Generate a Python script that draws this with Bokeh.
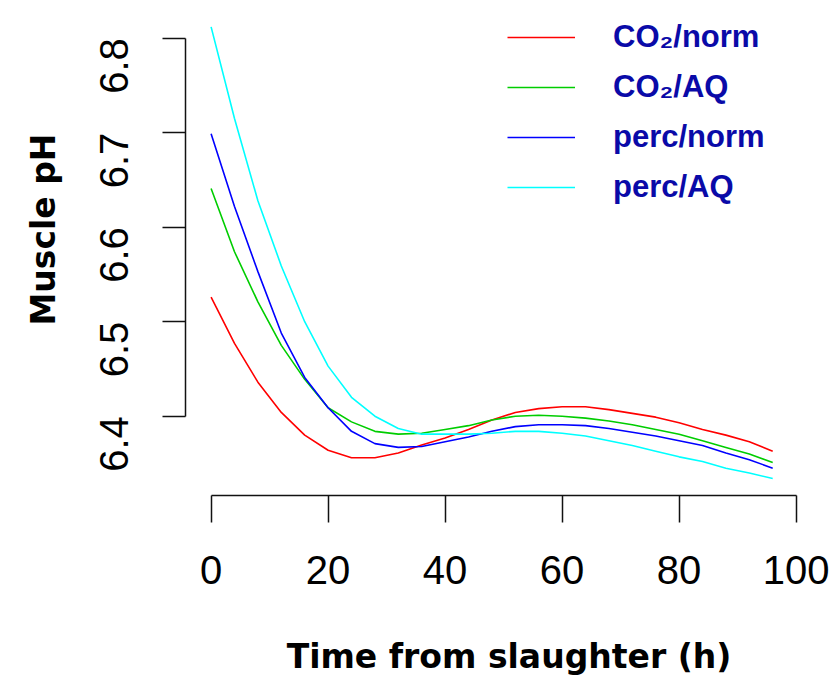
import math
from bokeh.plotting import figure
from bokeh.models import FixedTicker, PrintfTickFormatter, Legend, LegendItem, Range1d, Title
from bokeh.embed import file_html
from bokeh.resources import INLINE

# ---- data ----
time_h = [0, 4, 8, 12, 16, 20, 24, 28, 32, 36, 40, 44, 48,
          52, 56, 60, 64, 68, 72, 76, 80, 84, 88, 92, 96]

co2_norm = [6.526, 6.477, 6.436, 6.404, 6.380, 6.364, 6.356, 6.356, 6.361, 6.3695,
            6.377, 6.386, 6.396, 6.404, 6.408, 6.410, 6.410, 6.407, 6.403, 6.399,
            6.393, 6.386, 6.380, 6.373, 6.363]
co2_aq = [6.641, 6.574, 6.521, 6.475, 6.439, 6.409, 6.394, 6.384, 6.381, 6.382,
          6.386, 6.390, 6.396, 6.400, 6.401, 6.400, 6.398, 6.395, 6.391, 6.386,
          6.381, 6.374, 6.367, 6.360, 6.351]
perc_norm = [6.699, 6.622, 6.553, 6.488, 6.441, 6.409, 6.384, 6.371, 6.367, 6.368,
             6.373, 6.378, 6.384, 6.389, 6.391, 6.391, 6.390, 6.387, 6.383, 6.379,
             6.374, 6.369, 6.361, 6.354, 6.345]
perc_aq = [6.812, 6.715, 6.628, 6.559, 6.500, 6.453, 6.420, 6.400, 6.387, 6.381,
           6.381, 6.381, 6.382, 6.384, 6.384, 6.382, 6.379, 6.374, 6.369, 6.363,
           6.357, 6.352, 6.345, 6.340, 6.334]

series_names = ["CO\u2082/norm", "CO\u2082/AQ", "perc/norm", "perc/AQ"]
series_colors = ["#FF0000", "#00CD00", "#0000FF", "#00FFFF"]

x_ticks = [0, 20, 40, 60, 80, 100]
y_ticks = [6.4, 6.5, 6.6, 6.7, 6.8]

# ---- figure ----
p = figure(width=832, height=686, output_backend="svg", toolbar_location=None,
           x_range=Range1d(-4.376, 106.22), y_range=Range1d(6.3161, 6.8293),
           min_border_left=185, min_border_right=0, min_border_top=10,
           min_border_bottom=191)
p.outline_line_color = None
p.grid.visible = False
p.background_fill_color = "white"
p.border_fill_color = "white"

renderers = []
for ys, c in zip([co2_norm, co2_aq, perc_norm, perc_aq], series_colors):
    r = p.line(time_h, ys, line_color=c, line_width=1.6)
    renderers.append(r)

# x axis
xa = p.xaxis[0]
xa.bounds = (0, 100)
xa.ticker = FixedTicker(ticks=x_ticks)
xa.minor_tick_line_color = None
xa.major_tick_in = 0
xa.major_tick_out = 27
xa.axis_line_width = 1.5
xa.major_tick_line_width = 1.5
xa.axis_line_color = "#111111"
xa.major_tick_line_color = "#111111"
xa.major_label_text_font = "Liberation Sans"
xa.major_label_text_font_size = "40px"
xa.major_label_text_color = "black"
xa.major_label_standoff = 33
xa.axis_label = "Time from slaughter (h)"
xa.axis_label_text_font = "DejaVu Sans"
xa.axis_label_text_font_style = "bold"
xa.axis_label_text_font_size = "33px"
xa.axis_label_text_color = "black"
xa.axis_label_standoff = 50

# y axis
ya = p.yaxis[0]
ya.bounds = (6.4, 6.8)
ya.ticker = FixedTicker(ticks=y_ticks)
ya.formatter = PrintfTickFormatter(format="%.1f")
ya.minor_tick_line_color = None
ya.major_tick_in = 0
ya.major_tick_out = 23
ya.axis_line_width = 1.5
ya.major_tick_line_width = 1.5
ya.axis_line_color = "#111111"
ya.major_tick_line_color = "#111111"
ya.major_label_orientation = math.pi / 2
ya.major_label_text_font = "Liberation Sans"
ya.major_label_text_font_size = "40px"
ya.major_label_text_color = "black"
ya.major_label_standoff = 48

ytitle = Title(text="Muscle pH", align="left", offset=170,
               text_font="DejaVu Sans", text_font_style="bold",
               text_font_size="33px", text_color="black", standoff=42)
p.add_layout(ytitle, "left")

# legend
items = [LegendItem(label=n, renderers=[r]) for n, r in zip(series_names, renderers)]
legend = Legend(items=items, location=(322, 290),
                label_text_font="Liberation Sans", label_text_font_style="bold",
                label_text_font_size="31px", label_text_color="#0A0AA8",
                glyph_width=68, glyph_height=36, label_height=36, spacing=14,
                label_standoff=38, padding=0, margin=0,
                border_line_color=None, background_fill_alpha=0)
p.add_layout(legend)

open("out.html", "w").write(file_html(p, INLINE))
